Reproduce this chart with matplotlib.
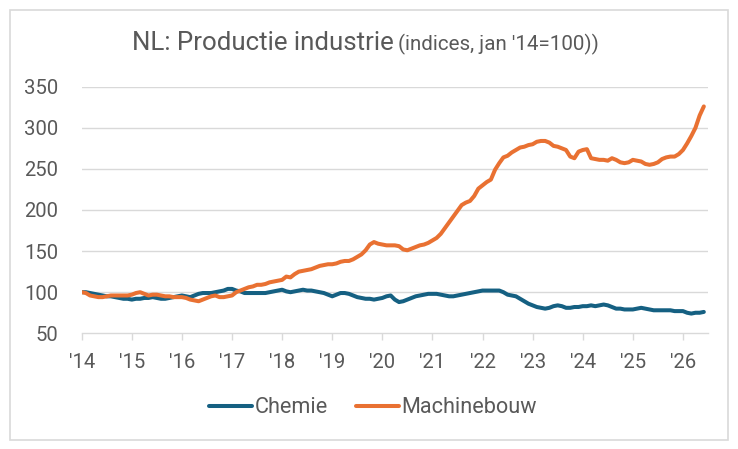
import numpy as np
import matplotlib.pyplot as plt
from matplotlib.patches import Rectangle

# monthly index values, jan 2014 .. jun 2026 (jan '14 = 100)
chemie = [
    100, 100, 99, 98, 97, 96, 95, 95, 94, 93, 92, 92,   # 2014
    91, 92, 92, 93, 93, 94, 93, 92, 92, 93, 94, 95,     # 2015
    96, 95, 94, 96, 98, 99, 99, 99, 100, 101, 102, 104,  # 2016
    104, 102, 101, 99, 99, 99, 99, 99, 99, 100, 101, 102,  # 2017
    103, 101, 100, 101, 102, 103, 102, 102, 101, 100, 99, 97,  # 2018
    95, 97, 99, 99, 98, 96, 94, 93, 92, 92, 91, 92,     # 2019
    93, 95, 96, 91, 88, 89, 91, 93, 95, 96, 97, 98,     # 2020
    98, 98, 97, 96, 95, 95, 96, 97, 98, 99, 100, 101,   # 2021
    102, 102, 102, 102, 102, 100, 97, 96, 95, 92, 89, 86,  # 2022
    84, 82, 81, 80, 81, 83, 84, 83, 81, 81, 82, 82,     # 2023
    83, 83, 84, 83, 84, 85, 84, 82, 80, 80, 79, 79,     # 2024
    79, 80, 81, 80, 79, 78, 78, 78, 78, 78, 77, 77,     # 2025
    77, 75, 74, 75, 75, 76,                             # 2026
]
machinebouw = [
    100, 99, 96, 95, 94, 94, 95, 96, 96, 96, 96, 96,    # 2014
    97, 99, 100, 98, 96, 97, 97, 96, 95, 95, 94, 94,    # 2015
    94, 93, 91, 90, 89, 91, 93, 95, 96, 94, 94, 95,     # 2016
    96, 100, 102, 104, 106, 107, 109, 109, 110, 112, 113, 114,  # 2017
    115, 119, 118, 122, 125, 126, 127, 128, 130, 132, 133, 134,  # 2018
    134, 135, 137, 138, 138, 140, 143, 146, 151, 158, 161, 159,  # 2019
    158, 157, 157, 157, 156, 152, 151, 153, 155, 157, 158, 160,  # 2020
    163, 166, 171, 178, 185, 192, 199, 206, 209, 211, 217, 226,  # 2021
    230, 234, 237, 249, 257, 264, 266, 270, 273, 276, 277, 279,  # 2022
    280, 283, 284, 284, 282, 278, 277, 275, 273, 265, 263, 271,  # 2023
    273, 274, 263, 262, 261, 261, 260, 263, 261, 258, 257, 258,  # 2024
    261, 260, 259, 256, 255, 256, 258, 262, 264, 265, 265, 268,  # 2025
    273, 281, 290, 300, 315, 326,                                # 2026
]
year_labels = ["'14", "'15", "'16", "'17", "'18", "'19", "'20",
               "'21", "'22", "'23", "'24", "'25", "'26"]
y_ticks = [50, 100, 150, 200, 250, 300, 350]

BLUE = '#156082'
ORANGE = '#E97132'
TEXT = '#595959'
GRID = '#D9D9D9'

plt.rcParams['font.family'] = ['Roboto', 'DejaVu Sans']

W, H = 738, 449
fig = plt.figure(figsize=(W / 100, H / 100), dpi=100)
fig.patch.set_facecolor('white')

# chart area border
fig.patches.append(Rectangle((10 / W, 1 - 440 / H), 718 / W, 430 / H,
                             transform=fig.transFigure, fill=False,
                             edgecolor=GRID, linewidth=1.2))

ax = fig.add_axes([81.7 / W, 1 - 333.3 / H, (708 - 81.7) / W, (333.3 - 86.7) / H])
months = np.arange(len(chemie))
ax.plot(months, chemie, color=BLUE, lw=2.9, solid_capstyle='round', label='Chemie', zorder=3)
ax.plot(months, machinebouw, color=ORANGE, lw=2.9, solid_capstyle='round', label='Machinebouw', zorder=3)

ax.set_xlim(0, 150)
ax.set_ylim(50, 350)
ax.set_yticks(y_ticks)
ax.set_xticks(np.arange(0, 12 * len(year_labels), 12))
ax.set_xticklabels(year_labels)

for v in y_ticks[1:]:
    ax.axhline(v, color=GRID, lw=1.0, zorder=1)

for s in ['top', 'right', 'left']:
    ax.spines[s].set_visible(False)
ax.spines['bottom'].set_color(GRID)
ax.spines['bottom'].set_linewidth(1.0)

ax.tick_params(axis='y', length=0, pad=17, labelsize=14.6, labelcolor=TEXT)
ax.tick_params(axis='x', length=5, width=1.0, color=GRID, pad=9, labelsize=14.6, labelcolor=TEXT)

fig.legend(loc='center', bbox_to_anchor=(373 / W, 1 - 407.7 / H), ncol=2, frameon=False,
           fontsize=15.6, handlelength=2.0, handletextpad=0.1, columnspacing=1.3,
           labelcolor=TEXT)

t1 = fig.text(131.7 / W, 1 - 50 / H, 'NL: Productie industrie', fontsize=18.6,
              color=TEXT, va='baseline', ha='left')
fig.canvas.draw()
bb = t1.get_window_extent()
fig.text((bb.x1 + 5) / W, 1 - 50 / H, "(indices, jan '14=100))", fontsize=14.8,
         color=TEXT, va='baseline', ha='left')

fig.savefig('out.png', dpi=100, facecolor='white')
